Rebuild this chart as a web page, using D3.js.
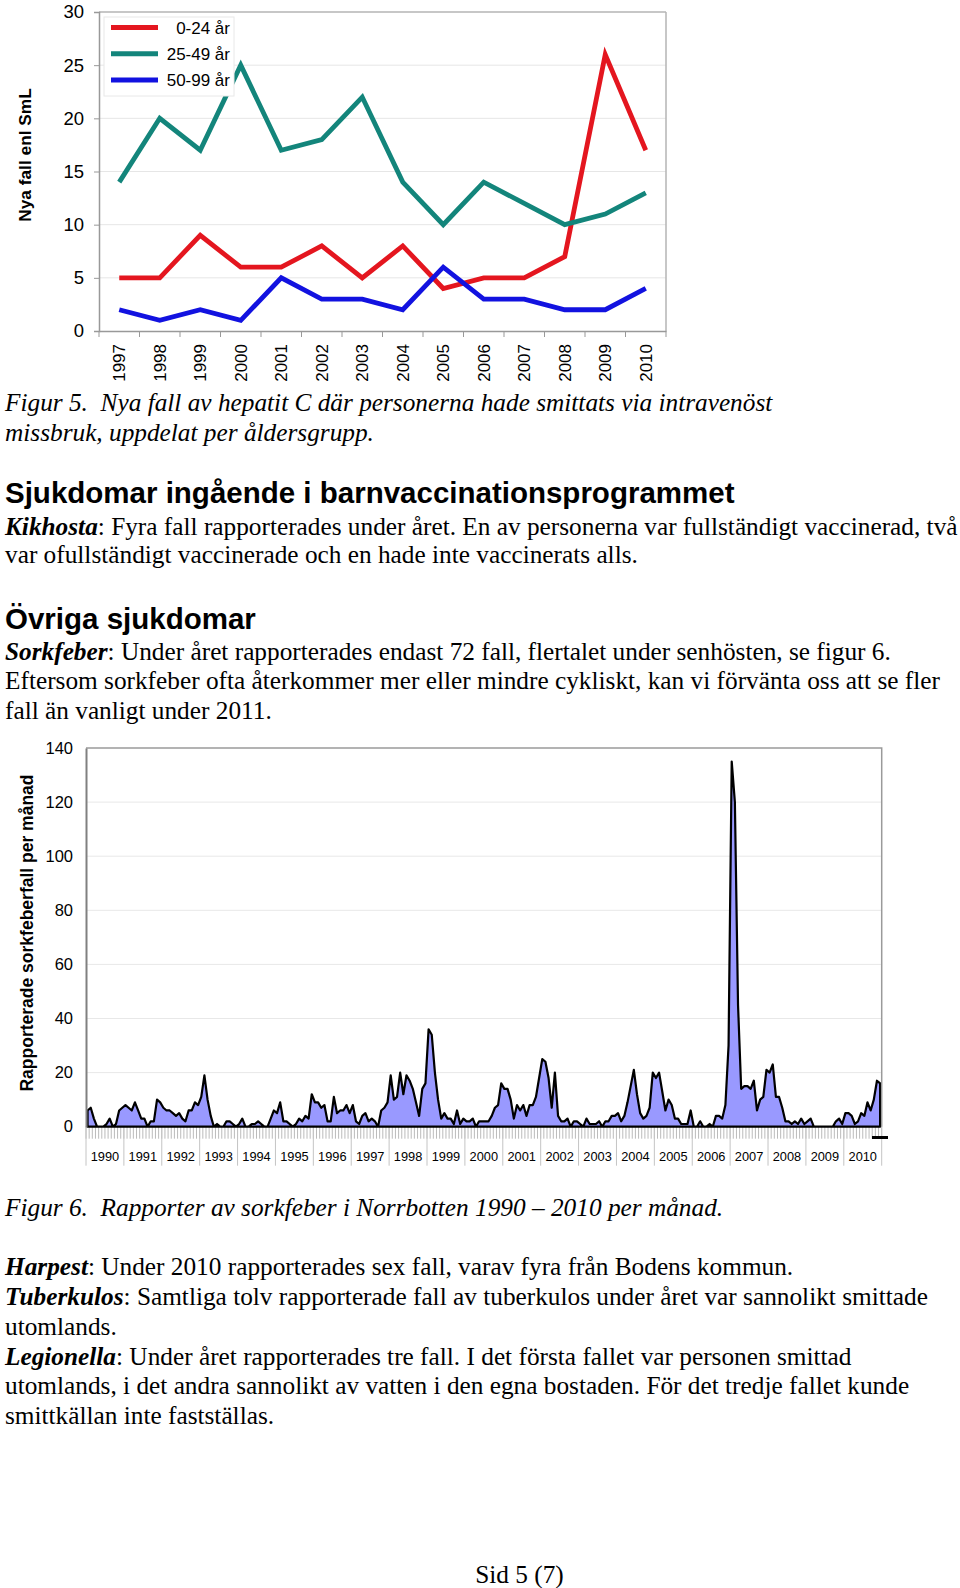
<!DOCTYPE html>
<html>
<head>
<meta charset="utf-8">
<script src="https://d3js.org/d3.v7.min.js"></script>
<style>
  body { margin: 0; background: #fff; }
  svg { display: block; }
  .serif { font-family: 'Liberation Serif', 'Times New Roman', serif; font-size: 25.3px; fill: #000; }
  .sans { font-family: 'Liberation Sans', Arial, sans-serif; fill: #000; }
</style>
</head>
<body>
<svg id="page" width="960" height="1588"></svg>
<script>
// Figur 5: nya fall av hepatit C, intravenöst missbruk, per åldersgrupp
var ageYears = ['1997', '1998', '1999', '2000', '2001', '2002', '2003', '2004', '2005', '2006', '2007', '2008', '2009', '2010']
var age0to24 = [5, 5, 9, 6, 6, 8, 5, 8, 4, 5, 5, 7, 26, 17]
var age25to49 = [14, 20, 17, 25, 17, 18, 22, 14, 10, 14, 12, 10, 11, 13]
var age50to99 = [2, 1, 2, 1, 5, 3, 3, 2, 6, 3, 3, 2, 2, 4]
var ageSeriesNames = ['0-24 år', '25-49 år', '50-99 år']
var ageTicks = [0, 5, 10, 15, 20, 25, 30]

// Figur 6: sorkfeber i Norrbotten per månad 1990-2010
var sorkYears = ['1990', '1991', '1992', '1993', '1994', '1995', '1996', '1997', '1998', '1999', '2000',
  '2001', '2002', '2003', '2004', '2005', '2006', '2007', '2008', '2009', '2010']
var sorkMonthly = [
  6, 7, 3, 0, 0, 0, 1, 3, 0, 1, 6, 7,           // 1990
  8, 7, 6, 9, 6, 3, 3, 0, 2, 2, 10, 9,          // 1991
  7, 6, 6, 5, 4, 5, 3, 2, 6, 6, 9, 8,           // 1992
  11, 19, 10, 4, 0, 1, 0, 0, 2, 2, 1, 0,        // 1993
  1, 3, 0, 0, 1, 1, 2, 1, 0, 0, 3, 6,           // 1994
  5, 9, 2, 2, 1, 0, 1, 3, 2, 4, 3, 12,          // 1995
  9, 9, 7, 8, 2, 2, 11, 5, 6, 6, 8, 5,          // 1996
  8, 2, 1, 4, 5, 2, 3, 2, 0, 6, 7, 9,           // 1997
  19, 10, 11, 20, 12, 19, 17, 14, 9, 4, 14, 16, // 1998
  36, 34, 20, 10, 3, 5, 3, 3, 1, 6, 1, 3,       // 1999
  2, 2, 3, 0, 2, 2, 2, 2, 4, 7, 8, 16,          // 2000
  14, 14, 10, 3, 8, 6, 8, 4, 8, 8, 11, 18,      // 2001
  25, 24, 18, 7, 20, 4, 2, 2, 3, 0, 2, 2,       // 2002
  1, 0, 3, 1, 1, 1, 2, 0, 2, 2, 4, 4,           // 2003
  5, 2, 4, 9, 15, 21, 12, 5, 3, 4, 7, 20,       // 2004
  18, 20, 13, 6, 10, 8, 3, 3, 1, 1, 1, 6,       // 2005
  0, 0, 2, 0, 0, 1, 0, 4, 4, 3, 8, 30,          // 2006
  135, 120, 45, 14, 15, 15, 14, 17, 6, 10, 11, 21, // 2007
  20, 23, 11, 11, 7, 2, 2, 1, 2, 1, 3, 1,       // 2008
  2, 3, 0, 0, 0, 0, 0, 0, 0, 2, 3, 1,           // 2009
  5, 5, 4, 1, 2, 5, 4, 9, 6, 10, 17, 16         // 2010
]
var sorkTicks = [0, 20, 40, 60, 80, 100, 120, 140]

var svg = d3.select('#page')
svg.append('rect').attr('width', 960).attr('height', 1588).attr('fill', '#fff')

function drawAgeChart () {
  var box = { left: 99, right: 666, top: 12, bottom: 331 }
  var x = d3.scaleBand().domain(ageYears).range([box.left, box.right])
  var y = d3.scaleLinear().domain([0, 30]).range([box.bottom, box.top])
  var g = svg.append('g')

  g.selectAll('line.grid')
    .data(ageTicks.filter(function (t) { return t > 0 }))
    .join('line')
    .attr('x1', box.left).attr('x2', box.right)
    .attr('y1', function (d) { return y(d) }).attr('y2', function (d) { return y(d) })
    .attr('stroke', function (d) { return d === 30 ? '#b4b4b4' : '#e6e6e6' })
    .attr('stroke-width', function (d) { return d === 30 ? 1.5 : 1 })
  g.append('line')
    .attr('x1', box.right).attr('x2', box.right).attr('y1', box.top).attr('y2', box.bottom)
    .attr('stroke', '#b4b4b4').attr('stroke-width', 1.5)

  var yAxis = g.append('g')
    .attr('transform', 'translate(' + box.left + ',0)')
    .call(d3.axisLeft(y).tickValues(ageTicks).tickSize(5).tickPadding(10))
  yAxis.select('.domain').attr('stroke', '#999').attr('stroke-width', 1.5)
  yAxis.selectAll('.tick line').attr('stroke', '#999')
  yAxis.selectAll('text').attr('font-size', 18.5).attr('font-family', 'Liberation Sans, Arial').attr('fill', '#000')

  var xAxis = g.append('g')
    .attr('transform', 'translate(0,' + box.bottom + ')')
    .call(d3.axisBottom(x).tickSize(0))
  xAxis.select('.domain').attr('stroke', '#999').attr('stroke-width', 1.5)
  xAxis.selectAll('text')
    .attr('font-size', 17).attr('font-family', 'Liberation Sans, Arial').attr('fill', '#000')
    .attr('transform', 'rotate(-90)')
    .attr('x', -13).attr('y', 0).attr('dy', '0.36em')
    .attr('text-anchor', 'end')
  g.selectAll('line.xtick')
    .data(ageYears.concat(['end']))
    .join('line')
    .attr('x1', function (d) { return d === 'end' ? box.right : x(d) })
    .attr('x2', function (d) { return d === 'end' ? box.right : x(d) })
    .attr('y1', box.bottom).attr('y2', box.bottom + 6)
    .attr('stroke', '#999')

  var cx = function (d, i) { return x(ageYears[i]) + x.bandwidth() / 2 }
  var line = d3.line().x(cx).y(function (d) { return y(d) })
  var series = [age0to24, age25to49, age50to99]
  var colors = ['#e4161f', '#13857b', '#1212e0']
  series.forEach(function (s, k) {
    g.append('path')
      .attr('d', line(s))
      .attr('fill', 'none')
      .attr('stroke', colors[k])
      .attr('stroke-width', 4.8)
      .attr('stroke-linejoin', 'miter')
  })

  var legend = g.append('g')
  legend.append('rect')
    .attr('x', 104).attr('y', 17).attr('width', 130).attr('height', 79)
    .attr('fill', '#fff').attr('stroke', '#e8e8e8')
  ageSeriesNames.forEach(function (name, k) {
    var ly = 27.5 + k * 26.3
    legend.append('line')
      .attr('x1', 111).attr('x2', 158).attr('y1', ly).attr('y2', ly)
      .attr('stroke', colors[k]).attr('stroke-width', 5)
    legend.append('text')
      .attr('class', 'sans')
      .attr('x', 230).attr('y', ly).attr('dy', '0.36em')
      .attr('text-anchor', 'end').attr('font-size', 17)
      .text(name)
  })

  g.append('text')
    .attr('class', 'sans')
    .attr('transform', 'translate(31,155) rotate(-90)')
    .attr('text-anchor', 'middle')
    .attr('font-size', 17.3).attr('font-weight', 'bold')
    .text('Nya fall enl SmL')
}

function drawSorkChart () {
  var box = { left: 86, right: 881.7, top: 748, bottom: 1126.7 }
  var months = d3.range(sorkMonthly.length)
  var x = d3.scaleBand().domain(months).range([box.left, box.right])
  var xYear = d3.scaleBand().domain(sorkYears).range([box.left, box.right])
  var y = d3.scaleLinear().domain([0, 140]).range([box.bottom, box.top])
  var g = svg.append('g')

  g.selectAll('line.grid')
    .data(sorkTicks.filter(function (t) { return t > 0 && t < 140 }))
    .join('line')
    .attr('x1', box.left).attr('x2', box.right)
    .attr('y1', function (d) { return y(d) }).attr('y2', function (d) { return y(d) })
    .attr('stroke', '#e8e8e8')

  // month ticks and year separators under the axis
  g.selectAll('line.mtick')
    .data(months.concat([sorkMonthly.length]))
    .join('line')
    .attr('x1', function (d) { return box.left + d * x.step() })
    .attr('x2', function (d) { return box.left + d * x.step() })
    .attr('y1', box.bottom).attr('y2', box.bottom + 12)
    .attr('stroke', '#aaa').attr('stroke-width', 0.8)
  g.selectAll('line.ysep')
    .data(sorkYears.concat(['end']))
    .join('line')
    .attr('x1', function (d) { return d === 'end' ? box.right : xYear(d) })
    .attr('x2', function (d) { return d === 'end' ? box.right : xYear(d) })
    .attr('y1', box.bottom).attr('y2', box.bottom + 39)
    .attr('stroke', '#c4c4c4').attr('stroke-width', 1)
  g.selectAll('text.year')
    .data(sorkYears)
    .join('text')
    .attr('class', 'sans')
    .attr('x', function (d) { return xYear(d) + xYear.bandwidth() / 2 })
    .attr('y', box.bottom + 29.5).attr('dy', '0.36em')
    .attr('text-anchor', 'middle').attr('font-size', 12.8)
    .text(function (d) { return d })

  var area = d3.area()
    .x(function (d, i) { return x(i) + x.bandwidth() / 2 })
    .y0(y(0))
    .y1(function (d) { return y(d) })
  g.append('path')
    .attr('d', area(sorkMonthly))
    .attr('fill', '#9999ff')
    .attr('stroke', '#000')
    .attr('stroke-width', 2.2)
    .attr('stroke-linejoin', 'round')

  g.append('path')
    .attr('d', 'M' + box.left + ',' + box.top + 'H' + box.right + 'V' + box.bottom)
    .attr('fill', 'none').attr('stroke', '#9a9a9a').attr('stroke-width', 1.5)
  var yAxis = g.append('g')
    .attr('transform', 'translate(' + box.left + ',0)')
    .call(d3.axisLeft(y).tickValues(sorkTicks).tickSize(0).tickPadding(13))
  yAxis.select('.domain').attr('stroke', '#808080').attr('stroke-width', 2)
  yAxis.selectAll('text').attr('font-size', 16.5).attr('font-family', 'Liberation Sans, Arial').attr('fill', '#000')

  g.append('line')
    .attr('x1', 872).attr('x2', 888).attr('y1', 1137.5).attr('y2', 1137.5)
    .attr('stroke', '#000').attr('stroke-width', 3)

  g.append('text')
    .attr('class', 'sans')
    .attr('transform', 'translate(33,933) rotate(-90)')
    .attr('text-anchor', 'middle')
    .attr('font-size', 17.5).attr('font-weight', 'bold')
    .text('Rapporterade sorkfeberfall per månad')
}

var textLines = [
  { y: 403, kind: 'caption', parts: [['Figur 5.\u00a0 Nya fall av hepatit C där personerna hade smittats via intravenöst', 'i']] },
  { y: 433, kind: 'caption', parts: [['missbruk, uppdelat per åldersgrupp.', 'i']] },
  { y: 493, kind: 'head', parts: [['Sjukdomar ingående i barnvaccinationsprogrammet', 'b']] },
  { y: 527, kind: 'body', parts: [['Kikhosta', 'bi'], [': Fyra fall rapporterades under året. En av personerna var fullständigt vaccinerad, två', 'n']] },
  { y: 555, kind: 'body', parts: [['var ofullständigt vaccinerade och en hade inte vaccinerats alls.', 'n']] },
  { y: 619, kind: 'head', parts: [['Övriga sjukdomar', 'b']] },
  { y: 652, kind: 'body', parts: [['Sorkfeber', 'bi'], [': Under året rapporterades endast 72 fall, flertalet under senhösten, se figur 6.', 'n']] },
  { y: 681, kind: 'body', parts: [['Eftersom sorkfeber ofta återkommer mer eller mindre cykliskt, kan vi förvänta oss att se fler', 'n']] },
  { y: 711, kind: 'body', parts: [['fall än vanligt under 2011.', 'n']] },
  { y: 1208, kind: 'caption', parts: [['Figur 6.\u00a0 Rapporter av sorkfeber i Norrbotten 1990 – 2010 per månad.', 'i']] },
  { y: 1267, kind: 'body', parts: [['Harpest', 'bi'], [': Under 2010 rapporterades sex fall, varav fyra från Bodens kommun.', 'n']] },
  { y: 1297, kind: 'body', parts: [['Tuberkulos', 'bi'], [': Samtliga tolv rapporterade fall av tuberkulos under året var sannolikt smittade', 'n']] },
  { y: 1327, kind: 'body', parts: [['utomlands.', 'n']] },
  { y: 1357, kind: 'body', parts: [['Legionella', 'bi'], [': Under året rapporterades tre fall. I det första fallet var personen smittad', 'n']] },
  { y: 1386, kind: 'body', parts: [['utomlands, i det andra sannolikt av vatten i den egna bostaden. För det tredje fallet kunde', 'n']] },
  { y: 1416, kind: 'body', parts: [['smittkällan inte fastställas.', 'n']] }
]

function drawText () {
  textLines.forEach(function (ln) {
    var t = svg.append('text')
    if (ln.kind === 'head') {
      t.attr('class', 'sans').attr('font-size', 29.5).attr('x', 5).attr('y', ln.y + 10)
    } else if (ln.kind === 'caption') {
      t.attr('class', 'serif').attr('font-size', 24.9).attr('x', 5).attr('y', ln.y + 8)
    } else {
      t.attr('class', 'serif').attr('x', 5).attr('y', ln.y + 8)
    }
    ln.parts.forEach(function (p) {
      var s = t.append('tspan').text(p[0])
      if (p[1].indexOf('b') >= 0) s.attr('font-weight', 'bold')
      if (p[1].indexOf('i') >= 0) s.attr('font-style', 'italic')
    })
  })
  svg.append('text')
    .attr('class', 'serif')
    .attr('x', 519.5).attr('y', 1583)
    .attr('text-anchor', 'middle').attr('font-size', 21)
    .text('Sid 5 (7)')
}

drawAgeChart()
drawSorkChart()
drawText()
</script>
</body>
</html>
